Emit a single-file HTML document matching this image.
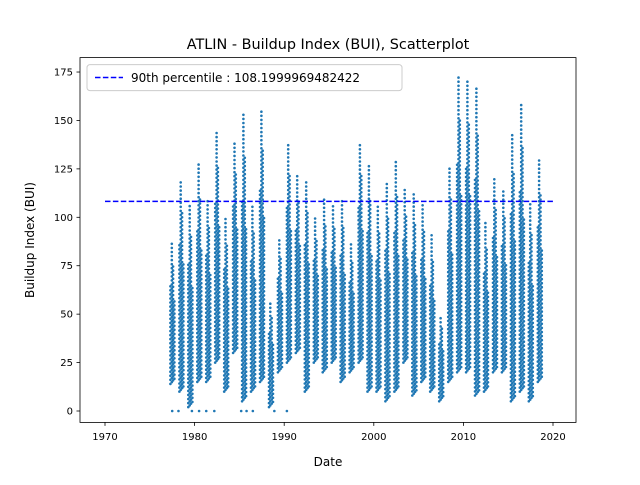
<!DOCTYPE html>
<html><head><meta charset="utf-8"><style>
body{margin:0;background:#fff;}
svg{font-family:"DejaVu Sans","Liberation Sans",sans-serif;}
</style></head><body>
<svg id="chart" width="640" height="480" viewBox="0 0 640 480">
<rect width="640" height="480" fill="#fff"/>
<text x="328" y="49" font-size="14.4" text-anchor="middle">ATLIN - Buildup Index (BUI), Scatterplot</text>
<g id="points"></g>
<g id="axes"></g>
<rect x="80" y="57.6" width="496" height="364.8" fill="none" stroke="#000" stroke-width="0.8"/>
<text x="328" y="466" font-size="12" text-anchor="middle">Date</text>
<text transform="translate(34,240) rotate(-90)" font-size="12" text-anchor="middle">Buildup Index (BUI)</text>
<g>
<rect x="87" y="64.6" width="315" height="26" rx="3" fill="#fff" fill-opacity="0.8" stroke="#ccc"/>
<line x1="95" y1="77.5" x2="123" y2="77.5" stroke="#0000ff" stroke-width="1.5" stroke-dasharray="5.5,2.4"/>
<text x="131" y="82" font-size="12">90th percentile : 108.1999969482422</text>
</g>
</svg>
<script>
const years=[1977,1978,1979,1980,1981,1982,1983,1984,1985,1986,1987,1988,1989,1990,1991,1992,1993,1994,1995,1996,1997,1998,1999,2000,2001,2002,2003,2004,2005,2006,2007,2008,2009,2010,2011,2012,2013,2014,2015,2016,2017,2018];
const yearLow=[14,10,2,15,15,25,10,30,5,10,15,2,20,25,30,10,25,20,25,15,20,25,10,10,5,10,25,8,15,10,5,15,20,20,8,10,20,20,5,10,5,15];
const yearHigh=[87,120,107,128,110,144,100,139,153,107,156,57,90,139,122,120,100,110,107,110,88,139,127,107,118,129,115,113,107,91,50,127,174,172,167,97,120,114,143,158,107,130];
const zeroYears=[1977.5,1978.2,1979.7,1980.5,1981.3,1982.2,1985.2,1985.8,1986.5,1988.9,1990.3];
const percentile=108.1999969482422;
const xTicks=[1970,1980,1990,2000,2010,2020];
const yTicks=[0,25,50,75,100,125,150,175];

const X=v=>105+(v-1970)*8.96;
const Y=v=>411-v*1.937;
const NS="http://www.w3.org/2000/svg";
const pts=document.getElementById('points');
const axes=document.getElementById('axes');
function mk(tag,attrs,parent){const e=document.createElementNS(NS,tag);for(const k in attrs)e.setAttribute(k,attrs[k]);parent.appendChild(e);return e;}

const offs=[0.3,0.45,0.6,0.75];
years.forEach((yr,i)=>{
  const lo=yearLow[i],hi=yearHigh[i];
  offs.forEach((o,j)=>{
    const top=lo+(hi-lo)*(j===1?1:j===2?0.85:j===0?0.7:0.6);
    for(let v=lo+j*0.9;v<=top;v+=2.1){
      const c=mk('circle',{cx:X(yr+o).toFixed(1),cy:Y(v).toFixed(1),r:1.3,fill:'#1f77b4'},pts);
      
      
    }
  });
});
zeroYears.forEach(z=>{
  const c=mk('circle',{cx:X(z),cy:Y(0),r:1.3,fill:'#1f77b4'},pts);
  
  
});
const pl=mk('line',{x1:X(1970),x2:X(2020),y1:Y(percentile),y2:Y(percentile),stroke:'#0000ff','stroke-width':1.5,'stroke-dasharray':'5.5,2.4'},pts);



xTicks.forEach(t=>{
  const l=mk('line',{x1:X(t),x2:X(t),y1:422.4,y2:425.9,stroke:'#000','stroke-width':0.8},axes);
  
  
  const tx=mk('text',{x:X(t),y:440,'font-size':10,'text-anchor':'middle'},axes);
  tx.textContent=t;
  
  
});
yTicks.forEach(t=>{
  const l=mk('line',{x1:76.5,x2:80,y1:Y(t),y2:Y(t),stroke:'#000','stroke-width':0.8},axes);
  
  
  const tx=mk('text',{x:73,y:Y(t)+3.5,'font-size':10,'text-anchor':'end'},axes);
  tx.textContent=t;
  
  
});
</script>
</body></html>
